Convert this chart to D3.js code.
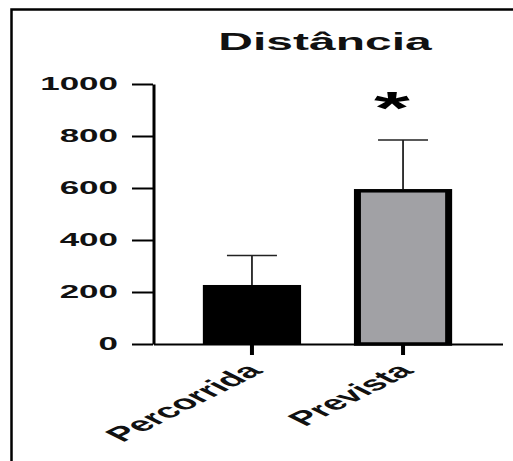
<!DOCTYPE html>
<html>
<head>
<meta charset="utf-8">
<script src="https://cdn.jsdelivr.net/npm/d3@7"></script>
<style>
  html, body { margin: 0; padding: 0; background: #fff; }
  svg { display: block; }
</style>
</head>
<body>
<svg id="chart" width="513" height="461"></svg>
<script>
// ---- data ----
const title = "Distância";
const categories = ["Percorrida", "Prevista"];
const means = [227, 596];
const errorsUp = [113, 189];
const significance = ["", "*"];
const yTicks = [0, 200, 400, 600, 800, 1000];

// ---- layout ----
const W = 513, H = 461;
const SX = 2.0; // horizontal stretch of the original picture
const FONT = "'Liberation Sans', Arial, Helvetica, sans-serif";
const barColors = ["#000000", "#a1a1a5"];

const svg = d3.select("#chart");
svg.append("rect").attr("width", W).attr("height", H).attr("fill", "#fff");

// outer frame
svg.append("path")
  .attr("d", `M11.5,${H + 5}V9.5H${W + 5}`)
  .attr("fill", "none").attr("stroke", "#000").attr("stroke-width", 2.5);

const g = svg.append("g").attr("transform", `scale(${SX},1)`);

const x = d3.scaleBand().domain(categories).range([76.5, 251])
  .paddingInner(0.35).paddingOuter(0.33);
const y = d3.scaleLinear().domain([0, 1000]).range([344, 84]);

// title
g.append("text")
  .attr("x", 162.5).attr("y", 50)
  .attr("text-anchor", "middle")
  .attr("font-family", FONT).attr("font-weight", "bold")
  .attr("font-size", 24).attr("fill", "#111")
  .text(title);

// bars
const sw = 3.5;
categories.forEach((c, i) => {
  const x0 = x(c), bw = x.bandwidth();
  if (i === 0) {
    g.append("rect")
      .attr("x", x0).attr("y", y(means[i]))
      .attr("width", bw).attr("height", y(0) - y(means[i]))
      .attr("fill", barColors[i]);
  } else {
    g.append("rect")
      .attr("x", x0 + sw / 2).attr("y", y(means[i]) + sw / 2)
      .attr("width", bw - sw).attr("height", y(0) - y(means[i]) - sw / 2)
      .attr("fill", barColors[i])
      .attr("stroke", "#000").attr("stroke-width", sw);
  }
});

// error bars (upper only)
categories.forEach((c, i) => {
  const cx = x(c) + x.bandwidth() / 2;
  const top = y(means[i] + errorsUp[i]);
  g.append("line")
    .attr("x1", cx).attr("x2", cx)
    .attr("y1", y(means[i])).attr("y2", top)
    .attr("stroke", "#222").attr("stroke-width", 0.9);
  g.append("line")
    .attr("x1", cx - 12.5).attr("x2", cx + 12.5)
    .attr("y1", top).attr("y2", top)
    .attr("stroke", "#222").attr("stroke-width", 1.5);
});

// significance markers
categories.forEach((c, i) => {
  if (!significance[i]) return;
  g.append("text")
    .attr("x", x(c) + x.bandwidth() / 2 - 5.5)
    .attr("y", 124)
    .attr("text-anchor", "middle")
    .attr("font-family", FONT).attr("font-weight", "bold")
    .attr("font-size", 46).attr("fill", "#000")
    .text(significance[i]);
});

// y axis
const yAxis = g.append("g").attr("transform", "translate(76.5,0)")
  .call(d3.axisLeft(y).tickValues(yTicks).tickSize(10.5).tickSizeOuter(0).tickPadding(7)
    .tickFormat(d3.format("d")));
yAxis.select(".domain").attr("stroke", "#000").attr("stroke-width", 1.5);
yAxis.selectAll(".tick line").attr("stroke", "#000").attr("stroke-width", 2);
yAxis.selectAll(".tick text")
  .attr("font-family", FONT).attr("font-weight", "bold")
  .attr("font-size", 17.5).attr("fill", "#111");

// x axis
const xAxis = g.append("g").attr("transform", "translate(0,344)")
  .call(d3.axisBottom(x).tickSize(11).tickSizeOuter(0).tickPadding(4));
xAxis.select(".domain").attr("stroke", "#000").attr("stroke-width", 2);
xAxis.selectAll(".tick line").attr("stroke", "#000").attr("stroke-width", 2);
xAxis.selectAll(".tick text")
  .attr("font-family", FONT).attr("font-weight", "bold")
  .attr("font-size", 20).attr("fill", "#111")
  .attr("text-anchor", "end")
  .attr("dy", null).attr("y", null)
  .attr("transform", "translate(6,28) rotate(-45)");
</script>
</body>
</html>
